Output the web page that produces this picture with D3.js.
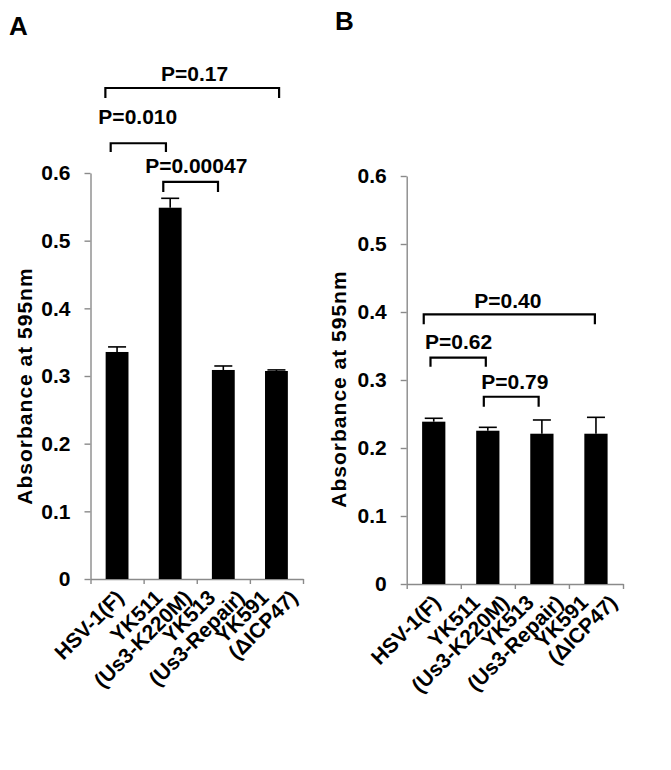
<!DOCTYPE html>
<html><head><meta charset="utf-8">
<script src="https://cdn.jsdelivr.net/npm/d3@7"></script>
<style>body{margin:0;background:#fff}svg{display:block}</style>
</head><body><svg id="c" width="671" height="770"></svg>
<script>
// ---- data ----
const categories = [["HSV-1(F)"], ["YK511", "(Us3-K220M)"], ["YK513", "(Us3-Repair)"], ["YK591", "(ΔICP47)"]];
const yTicks = [0, 0.1, 0.2, 0.3, 0.4, 0.5, 0.6];
const yTickLabels = ["0", "0.1", "0.2", "0.3", "0.4", "0.5", "0.6"];
const yTitle = "Absorbance at 595nm";
const panelLetters = ["A", "B"];

const meanA = [0.3355, 0.5487, 0.3089, 0.3074];
const errA  = [0.0075, 0.0139, 0.0059, 0.0016];
const meanB = [0.2387, 0.2254, 0.2210, 0.2210];
const errB  = [0.0050, 0.0050, 0.0202, 0.0241];

// significance brackets: category-index span, bracket level, leg end, label position (data units)
const pLabelsA = ["P=0.17", "P=0.010", "P=0.00047"];
const pFromA   = [-0.22, -0.12, 0.87];
const pToA     = [3.05, 0.92, 1.90];
const pLevelA  = [0.7256, 0.644, 0.587];
const pLegA    = [0.711, 0.631, 0.572];
const pTextXA  = [1.46, 0.39, 1.49];
const pTextYA  = [0.736, 0.672, 0.600];

const pLabelsB = ["P=0.40", "P=0.62", "P=0.79"];
const pFromB   = [-0.185, -0.06, 0.926];
const pToB     = [2.98, 0.963, 1.94];
const pLevelB  = [0.3966, 0.333, 0.2754];
const pLegB    = [0.382, 0.3196, 0.2607];
const pTextXB  = [1.37, 0.46, 1.50];
const pTextYB  = [0.406, 0.3456, 0.2868];

// ---- drawing ----
const svg = d3.select("#c");
const FONT = "'Liberation Sans', Arial, Helvetica, sans-serif";
const AXIS = "#8a8a8a";

function drawPanel(cfg) {
  const {left, right, top, bottom, mean, err, pL, pF, pT, pLv, pLg, pTx, pTy, letter, letterX, letterY, titleX, titleY} = cfg;
  const g = svg.append("g");
  const n = categories.length;
  const x = d3.scaleBand().domain(d3.range(n)).range([left, right]).paddingInner(0.57).paddingOuter(0.285);
  const idx = d3.scaleLinear().domain([0, n - 1]).range([x(0) + x.bandwidth() / 2, x(n - 1) + x.bandwidth() / 2]);
  const bnd = d3.scaleLinear().domain([0, n]).range([left, right]);
  const y = d3.scaleLinear().domain([0, 0.6]).range([bottom, top]);

  // y axis
  const ya = g.append("g").attr("transform", `translate(${left},0)`)
    .call(d3.axisLeft(y).tickValues(yTicks).tickFormat((d, i) => yTickLabels[i]).tickSize(6).tickSizeOuter(0).tickPadding(14));
  ya.select(".domain").attr("stroke", AXIS).attr("stroke-width", 1.4);
  ya.selectAll(".tick line").attr("stroke", AXIS).attr("stroke-width", 1.4);
  ya.selectAll(".tick text").attr("fill", "#000").style("font", `bold 21px ${FONT}`);

  // x axis (ticks at category boundaries)
  const xa = g.append("g").attr("transform", `translate(0,${bottom})`)
    .call(d3.axisBottom(bnd).tickValues(d3.range(n + 1)).tickFormat("").tickSize(5).tickSizeOuter(0));
  xa.select(".domain").attr("stroke", AXIS).attr("stroke-width", 1.4);
  xa.selectAll(".tick line").attr("stroke", AXIS).attr("stroke-width", 1.4);

  // bars
  g.selectAll(".bar").data(mean).join("rect")
    .attr("x", (d, i) => x(i)).attr("width", x.bandwidth())
    .attr("y", d => y(d)).attr("height", d => bottom - y(d))
    .attr("fill", "#000");

  // error bars (plus only)
  const capW = 9;
  mean.forEach((m, i) => {
    const cx = x(i) + x.bandwidth() / 2;
    g.append("line").attr("x1", cx).attr("x2", cx).attr("y1", y(m)).attr("y2", y(m + err[i]))
      .attr("stroke", "#000").attr("stroke-width", 1.6);
    g.append("line").attr("x1", cx - capW).attr("x2", cx + capW).attr("y1", y(m + err[i])).attr("y2", y(m + err[i]))
      .attr("stroke", "#000").attr("stroke-width", 1.6);
  });

  // category labels (rotated -45°)
  categories.forEach((lines, i) => {
    const cx = x(i) + x.bandwidth() / 2;
    const k = lines.length;
    lines.forEach((t, j) => {
      const ax = cx + 8 + (j - (k - 1) / 2) * 29;
      const ay = bottom + 20;
      g.append("text").attr("transform", `translate(${ax},${ay}) rotate(-45)`)
        .attr("text-anchor", "end").attr("fill", "#000")
        .style("font", `bold 21px ${FONT}`).text(t);
    });
  });

  // y title
  g.append("text").attr("transform", `translate(${titleX},${titleY}) rotate(-90)`)
    .attr("text-anchor", "middle").attr("fill", "#000")
    .style("font", `bold 21px ${FONT}`).style("letter-spacing", "1.0px").text(yTitle);

  // significance brackets
  pL.forEach((lab, i) => {
    const x1 = idx(pF[i]), x2 = idx(pT[i]);
    const yl = y(pLv[i]), yg = y(pLg[i]);
    g.append("path").attr("d", `M${x1},${yg}V${yl}H${x2}V${yg}`)
      .attr("fill", "none").attr("stroke", "#000").attr("stroke-width", 2.2);
    g.append("text").attr("x", idx(pTx[i])).attr("y", y(pTy[i]))
      .attr("text-anchor", "middle").attr("fill", "#000")
      .style("font", `bold 21px ${FONT}`).text(lab);
  });

  // panel letter
  g.append("text").attr("x", letterX).attr("y", letterY).attr("fill", "#000")
    .style("font", `bold 26px ${FONT}`).text(letter);
}

drawPanel({left: 90.5, right: 303, top: 173, bottom: 579, mean: meanA, err: errA,
  pL: pLabelsA, pF: pFromA, pT: pToA, pLv: pLevelA, pLg: pLegA, pTx: pTextXA, pTy: pTextYA,
  letter: panelLetters[0], letterX: 9, letterY: 35, titleX: 32, titleY: 386});
drawPanel({left: 406.7, right: 623, top: 176, bottom: 584, mean: meanB, err: errB,
  pL: pLabelsB, pF: pFromB, pT: pToB, pLv: pLevelB, pLg: pLegB, pTx: pTextXB, pTy: pTextYB,
  letter: panelLetters[1], letterX: 335, letterY: 30, titleX: 346, titleY: 389});
</script></body></html>
